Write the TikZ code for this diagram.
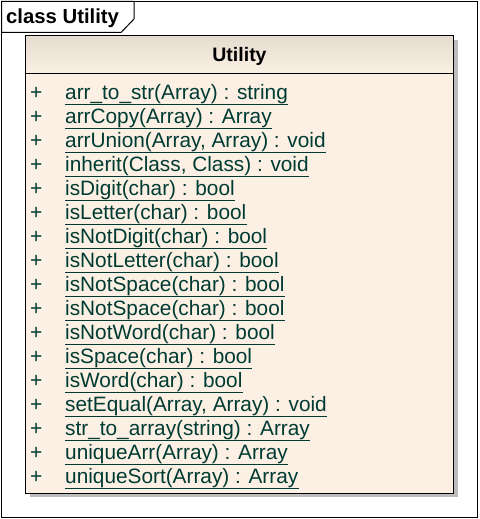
\documentclass[tikz,border=0pt]{standalone}
\usepackage{fontspec}
\setmainfont{Liberation Sans}
\usetikzlibrary{shadings}
\definecolor{txt}{HTML}{003B33}
\definecolor{bodyfill}{HTML}{FBF0E3}
\definecolor{headtop}{HTML}{E5DCCF}
\definecolor{headbot}{HTML}{FAF0E4}
\definecolor{shadowc}{HTML}{BDBDBD}
\tikzset{
  member/.style={anchor=base west, inner sep=0pt, text=txt, font=\fontsize{20.8}{21}\selectfont},
  plus/.style={anchor=base west, inner sep=0pt, text=txt, font=\fontsize{21}{21}\selectfont},
}
\begin{document}
\begin{tikzpicture}[x=1pt,y=-1pt]
\useasboundingbox (0,0) rectangle (479,519);
% outer frame
\draw[line width=1pt] (1.5,1.5) rectangle (477.5,517.5);
% tab
\draw[line width=1pt, fill=white] (1.5,1.5) -- (134,1.5) -- (134,19) -- (121,32.5) -- (1.5,32.5) -- cycle;
\node[anchor=base west, inner sep=0pt, font=\fontsize{20.3}{21}\selectfont\bfseries] (frametitle) at (6,24) {class Utility};
% shadow
\fill[shadowc] (453.5,40) rectangle (458,497);
\fill[shadowc] (30,493.5) rectangle (458,497);
% class box
\fill[bodyfill] (25.5,35.5) rectangle (453.5,493.5);
\shade[top color=headtop, bottom color=headbot] (25.5,35.5) rectangle (453.5,73.5);
\draw[line width=1pt] (25.5,35.5) rectangle (453.5,493.5);
\draw[line width=1pt] (25.5,73.5) -- (453.5,73.5);
\node[anchor=base, inner sep=0pt, font=\fontsize{19.5}{20}\selectfont\bfseries] (classname) at (239.5,62) {Utility};
% members
\foreach \t [count=\i from 0] in {
  {arr\_to\_str(Array) : string},
  {arrCopy(Array) : Array},
  {arrUnion(Array, Array) : void},
  {inherit(Class, Class) : void},
  {isDigit(char) : bool},
  {isLetter(char) : bool},
  {isNotDigit(char) : bool},
  {isNotLetter(char) : bool},
  {isNotSpace(char) : bool},
  {isNotSpace(char) : bool},
  {isNotWord(char) : bool},
  {isSpace(char) : bool},
  {isWord(char) : bool},
  {setEqual(Array, Array) : void},
  {str\_to\_array(string) : Array},
  {uniqueArr(Array) : Array},
  {uniqueSort(Array) : Array}} {
  \node[plus] (p\i) at (30,{99+24*\i}) {+};
  \node[member] (m\i) at (65,{99+24*\i}) {\t};
  \draw[txt, line width=1.2pt] (m\i.base west) ++(0,5.5) -- ([yshift=-5.5pt]m\i.base east);
}
\end{tikzpicture}
\end{document}
